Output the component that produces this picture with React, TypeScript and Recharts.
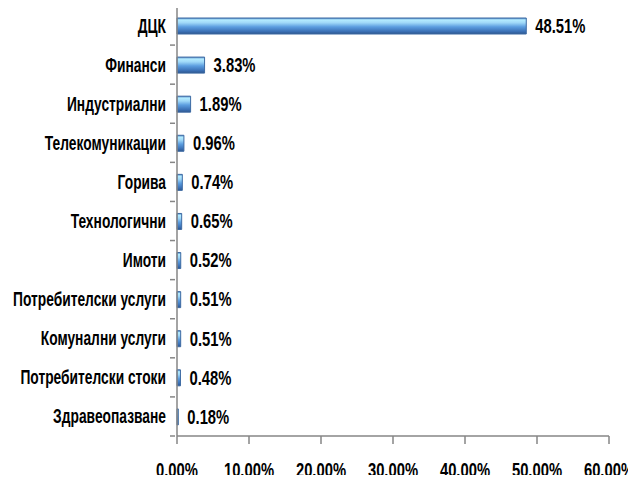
import React from "react";
import { BarChart, Bar, XAxis, YAxis, LabelList } from "recharts";

const categories = [
  "ДЦК",
  "Финанси",
  "Индустриални",
  "Телекомуникации",
  "Горива",
  "Технологични",
  "Имоти",
  "Потребителски услуги",
  "Комунални услуги",
  "Потребителски стоки",
  "Здравеопазване",
];
const values = [48.51, 3.83, 1.89, 0.96, 0.74, 0.65, 0.52, 0.51, 0.51, 0.48, 0.18];
const xTicks = [0, 10, 20, 30, 40, 50, 60];

const data = categories.map((name, i) => ({ name, value: values[i] }));

const W = 636;
const H = 483;
const X_H = 30;
const M = { top: 6, right: 27, bottom: 47 - X_H, left: 0 };
const Y_W = 177;
const FONT = "'Liberation Sans', Arial, sans-serif";
const FS = 20;
const SX_TEXT = 0.69;
const SX_NUM = 0.74;
const BAND = (H - M.top - M.bottom - X_H) / categories.length;
const AXIS = "#868686";

const pct = (v: number) => v.toFixed(2) + "%";

const NarrowText = ({ x, y, anchor, sx, children }: any) => (
  <text
    x={0}
    y={0}
    transform={`translate(${x},${y}) scale(${sx},1)`}
    textAnchor={anchor}
    dominantBaseline="central"
    fontFamily={FONT}
    fontWeight="bold"
    fontSize={FS}
    fill="#000"
  >
    {children}
  </text>
);

const YTick = (props: any) => {
  const { x, y, payload, index } = props;
  const ax = x + 6;
  return (
    <g>
      <line x1={ax - 5} x2={ax} y1={y - BAND / 2} y2={y - BAND / 2} stroke={AXIS} strokeWidth={1.5} />
      {index === categories.length - 1 && (
        <line x1={ax - 5} x2={ax} y1={y + BAND / 2} y2={y + BAND / 2} stroke={AXIS} strokeWidth={1.5} />
      )}
      <NarrowText x={x - 3} y={y} anchor="end" sx={SX_TEXT}>
        {payload.value}
      </NarrowText>
    </g>
  );
};

const XTick = (props: any) => {
  const { x, y, payload } = props;
  return (
    <NarrowText x={x} y={y + 26} anchor="middle" sx={SX_NUM}>
      {pct(payload.value)}
    </NarrowText>
  );
};

const BarLabel = (props: any) => {
  const { x, y, width, height, value } = props;
  return (
    <NarrowText x={x + width + 9} y={y + height / 2} anchor="start" sx={SX_NUM}>
      {pct(value)}
    </NarrowText>
  );
};

export default function App() {
  return (
    <div style={{ position: "relative", width: W, height: H, margin: -8, background: "#fff" }}>
      <div
        style={{
          position: "absolute",
          left: 2,
          top: 0,
          width: 0,
          height: H,
          borderLeft: "2px solid #8c8c8c",
        }}
      />
      <BarChart width={W} height={H} data={data} layout="vertical" margin={M}>
        <defs>
          <linearGradient id="barGrad" x1="0" y1="0" x2="0" y2="1">
            <stop offset="0%" stopColor="#4f86c6" />
            <stop offset="12%" stopColor="#b4ecff" />
            <stop offset="30%" stopColor="#9fd8f8" />
            <stop offset="55%" stopColor="#5c9ee0" />
            <stop offset="85%" stopColor="#3a6fb4" />
            <stop offset="100%" stopColor="#2d558c" />
          </linearGradient>
        </defs>
        <XAxis
          type="number"
          domain={[0, 60]}
          ticks={xTicks}
          height={X_H}
          axisLine={{ stroke: AXIS, strokeWidth: 1.5 }}
          tickLine={{ stroke: AXIS, strokeWidth: 1.5 }}
          tickSize={8}
          tickMargin={0}
          interval={0}
          tick={<XTick />}
        />
        <YAxis
          type="category"
          dataKey="name"
          width={Y_W}
          interval={0}
          axisLine={{ stroke: AXIS, strokeWidth: 1.5 }}
          tickLine={false}
          tick={<YTick />}
        />
        <Bar
          dataKey="value"
          barSize={16}
          fill="url(#barGrad)"
          stroke="#3d6aa3"
          strokeWidth={1}
          isAnimationActive={false}
        >
          <LabelList dataKey="value" content={<BarLabel />} />
        </Bar>
      </BarChart>
    </div>
  );
}
